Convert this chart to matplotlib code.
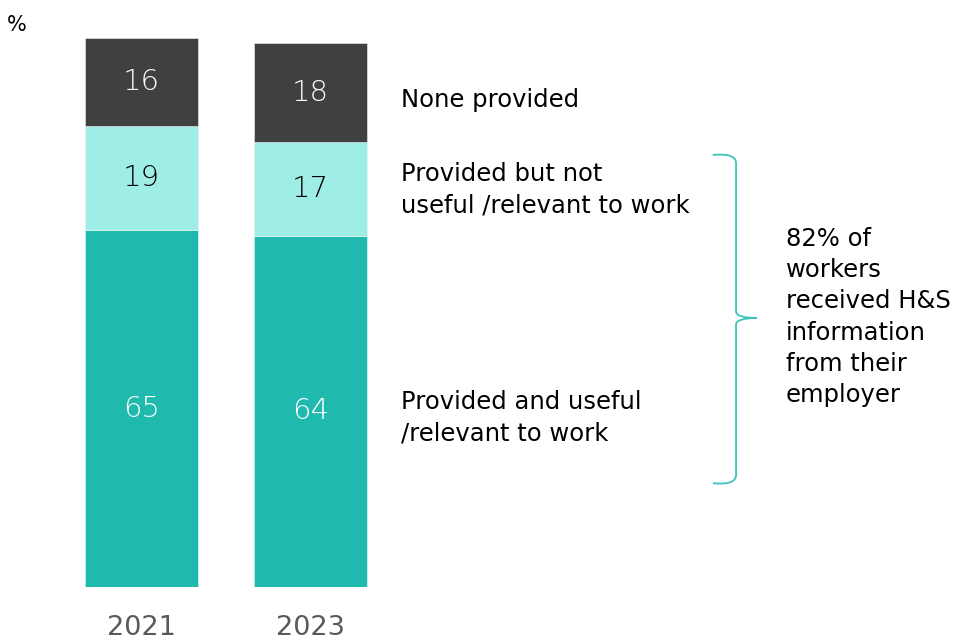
import matplotlib
matplotlib.use("Agg")
import matplotlib.pyplot as plt
from matplotlib.path import Path
from matplotlib.patches import PathPatch

years = ["2021", "2023"]
useful = [65, 64]
not_useful = [19, 17]
none_provided = [16, 18]
segment_names = ["Provided and useful\n/relevant to work",
                 "Provided but not\nuseful /relevant to work",
                 "None provided"]
segment_colors = ["#20b9ad", "#9feee6", "#404040"]
label_colors = ["white", "black", "white"]
brace_note = "82% of\nworkers\nreceived H&S\ninformation\nfrom their\nemployer"

plt.rcParams["font.family"] = ["DejaVu Sans"]

fig = plt.figure(figsize=(9.65, 6.41), dpi=100)
# axes placed so one x unit equals the bar spacing and y runs 0-100 %
ax = fig.add_axes([0, 54 / 641, 1, 549 / 641])
ax.set_xlim(-141.5 / 169, (965 - 141.5) / 169)
ax.set_ylim(0, 100)
ax.axis("off")

x = [0, 1]
bottoms = [0, 0]
for vals, col, tcol in zip([useful, not_useful, none_provided], segment_colors, label_colors):
    ax.bar(x, vals, width=113 / 169, bottom=bottoms, color=col,
           edgecolor="#e8f7f5", linewidth=0.4)
    for xi, v, b in zip(x, vals, bottoms):
        ax.text(xi, b + v / 2, str(v), ha="center", va="center",
                color=tcol, fontsize=21, fontweight="light")
    bottoms = [b + v for b, v in zip(bottoms, vals)]

for xi, yr in zip(x, years):
    ax.text(xi, -7.5, yr, ha="center", va="center", color="#595959",
            fontsize=19.5, clip_on=False)

ax.text(-0.74, 102.3, "%", ha="center", va="center", fontsize=15, clip_on=False)

# segment names to the right of the 2023 bar
label_x = 1.536
ax.text(label_x, 88.7, segment_names[2], ha="left", va="center", fontsize=17.5)
ax.text(label_x, 72.4, segment_names[1], ha="left", va="center", fontsize=17.5,
        linespacing=1.38)
ax.text(label_x, 30.8, segment_names[0], ha="left", va="center", fontsize=17.5,
        linespacing=1.38)

# curly brace grouping the two "provided" segments
xl, xm, xt = 3.381, 3.518, 3.642
top, mid, bot = 78.7, 49.0, 18.9
verts = [
    (xl, top), (xm, top + 0.4), (xm, top - 1.5),
    (xm, mid + 1.2),
    (xm, mid), (xt, mid), (xt, mid),
    (xm, mid), (xm, mid - 1.2),
    (xm, bot + 1.5),
    (xm, bot - 0.4), (xl, bot),
]
codes = [Path.MOVETO, Path.CURVE3, Path.CURVE3,
         Path.LINETO,
         Path.CURVE3, Path.CURVE3, Path.LINETO,
         Path.CURVE3, Path.CURVE3,
         Path.LINETO,
         Path.CURVE3, Path.CURVE3]
ax.add_patch(PathPatch(Path(verts, codes), facecolor="none",
                       edgecolor="#3cc4b8", linewidth=1.3, clip_on=False))

ax.text(3.814, 49.2, brace_note, ha="left", va="center", fontsize=17.5,
        linespacing=1.38, clip_on=False)

fig.savefig("out.png", dpi=100)
